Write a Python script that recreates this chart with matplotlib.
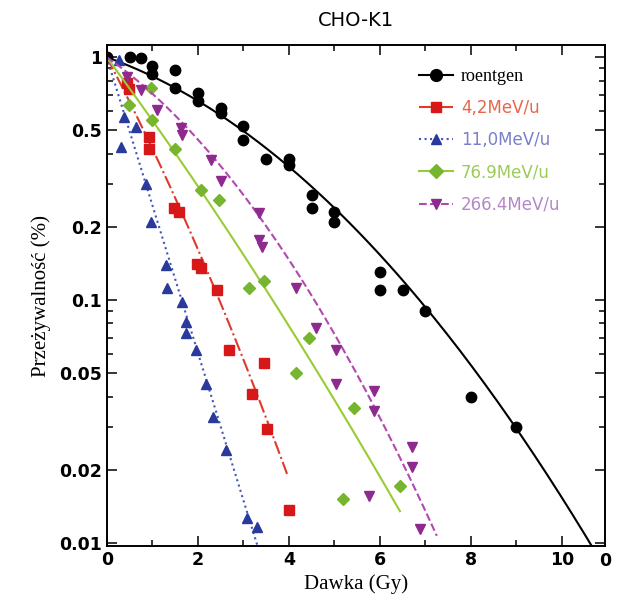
import numpy as np
import matplotlib
matplotlib.use("Agg")
import matplotlib.pyplot as plt
from matplotlib.ticker import FixedLocator, NullFormatter, MultipleLocator

# dawka (Gy), przezywalnosc
rtg_dose = [0, 0.5, 0.75, 1, 1, 1.5, 1.5, 2, 2, 2.5, 2.5, 3, 3, 3.5, 4, 4, 4.5, 4.5, 5, 5, 6, 6, 6.5, 7, 8, 9]
rtg_surv = [1.0, 1.0, 0.99, 0.92, 0.85, 0.89, 0.745, 0.71, 0.66, 0.62, 0.59, 0.52, 0.455, 0.38, 0.38, 0.36,
            0.27, 0.24, 0.23, 0.21, 0.13, 0.11, 0.11, 0.09, 0.04, 0.03]

c42_dose = [0.44, 0.48, 0.92, 0.92, 1.47, 1.58, 1.98, 2.07, 2.42, 2.68, 3.45, 3.19, 3.52, 4.0]
c42_surv = [0.78, 0.74, 0.47, 0.42, 0.24, 0.23, 0.14, 0.136, 0.11, 0.0625, 0.055, 0.041, 0.0295, 0.0137]

c110_dose = [0.26, 0.31, 0.37, 0.64, 0.86, 0.97, 1.3, 1.32, 1.65, 1.74, 1.74, 1.96, 2.18, 2.33, 2.62, 3.08, 3.3]
c110_surv = [0.97, 0.425, 0.565, 0.515, 0.30, 0.21, 0.139, 0.112, 0.098, 0.081, 0.073, 0.0625, 0.045,
             0.033, 0.024, 0.0126, 0.0116]

c769_dose = [0.48, 0.97, 0.99, 1.49, 2.07, 2.46, 3.12, 3.45, 4.44, 4.15, 5.43, 5.19, 6.44]
c769_surv = [0.634, 0.75, 0.55, 0.42, 0.283, 0.257, 0.112, 0.12, 0.070, 0.050, 0.036, 0.0152, 0.0172]

c2664_dose = [0.44, 0.75, 1.1, 1.63, 1.65, 2.29, 2.5, 3.34, 3.34, 3.41, 4.15, 4.59, 5.03, 5.03, 5.87, 5.87,
              6.70, 6.70, 5.76, 6.88]
c2664_surv = [0.83, 0.73, 0.605, 0.51, 0.477, 0.376, 0.31, 0.228, 0.176, 0.165, 0.112, 0.077, 0.0625, 0.045,
              0.042, 0.035, 0.0247, 0.0205, 0.0156, 0.0114]

# dopasowanie LQ: S = exp(-a*D - b*D^2), zakres dawki linii
fit_alpha = [0.154, 0.82, 1.40, 0.585, 0.30]
fit_beta = [0.0264, 0.045, 0.0, 0.013, 0.045]
fit_dmax = [11.0, 3.96, 3.4, 6.44, 7.25]

labels = ["roentgen", "4,2MeV/u", "11,0MeV/u", "76.9MeV/u", "266.4MeV/u"]

series = [
    (rtg_dose, rtg_surv, "o", "black", "black", "-", "black", 7.5),
    (c42_dose, c42_surv, "s", "#d81818", "#e03a2a", "-.", "#e8664a", 6.5),
    (c110_dose, c110_surv, "^", "#2a3a9c", "#4455bb", ":", "#7a80c8", 6.5),
    (c769_dose, c769_surv, "D", "#77b52e", "#99cc33", "-", "#9ccc55", 6),
    (c2664_dose, c2664_surv, "v", "#8e2a8e", "#b04ab0", "--", "#b488c8", 6.5),
]

fig = plt.figure(figsize=(6.17, 6.12), dpi=100)
ax = fig.add_axes([0.173, 0.108, 0.808, 0.818])

handles = []
for i, (d, s, m, mc, lc, ls, tc, ms) in enumerate(series):
    dd = np.linspace(0, fit_dmax[i], 200)
    ax.plot(dd, np.exp(-fit_alpha[i] * dd - fit_beta[i] * dd ** 2), color=lc, ls=ls, lw=1.5)
    ax.plot(d, s, m, color=mc, ms=ms, mec=mc, ls="none")
    h, = ax.plot([], [], color=lc, ls=ls, lw=1.5, marker=m, ms=ms + 1, mfc=mc, mec=mc)
    handles.append(h)

ax.set_yscale("log")
ax.set_xlim(0, 10.95)
ax.set_ylim(0.0097, 1.12)

ax.yaxis.set_major_locator(FixedLocator([0.01, 0.02, 0.05, 0.1, 0.2, 0.5, 1]))
ax.yaxis.set_minor_locator(FixedLocator([k * 10.0 ** e for e in (-2, -1) for k in range(2, 10)]))
ax.yaxis.set_minor_formatter(NullFormatter())
ax.set_yticklabels(["0.01", "0.02", "0.05", "0.1", "0.2", "0.5", "1"])
ax.xaxis.set_major_locator(MultipleLocator(2))
ax.xaxis.set_minor_locator(MultipleLocator(1))

ax.tick_params(which="both", direction="in", top=True, right=True, labelsize=12.5, width=1.1)
ax.tick_params(which="major", length=7)
ax.tick_params(which="minor", length=4)
for t in ax.get_xticklabels() + ax.get_yticklabels():
    t.set_fontweight("bold")
for sp in ax.spines.values():
    sp.set_linewidth(1.4)

ax.text(1.0, -0.012, "0", transform=ax.transAxes, ha="center", va="top", fontsize=12.5, fontweight="bold")

ax.set_xlabel("Dawka (Gy)", family="Liberation Serif", fontsize=15, labelpad=4)
ax.set_ylabel("Przeżywalność (%)", family="Liberation Serif", fontsize=15, labelpad=6)
ax.set_title("CHO-K1", fontsize=14, pad=14)

leg = ax.legend(handles, labels, loc="upper right", bbox_to_anchor=(0.94, 0.985), frameon=False,
                handlelength=2.0, handletextpad=0.5, labelspacing=0.85, fontsize=12)
for i, t in enumerate(leg.get_texts()):
    t.set_color(series[i][6])
    if i == 0:
        t.set_family("Liberation Serif")
        t.set_fontsize(13)

fig.savefig("out.png", dpi=100)
